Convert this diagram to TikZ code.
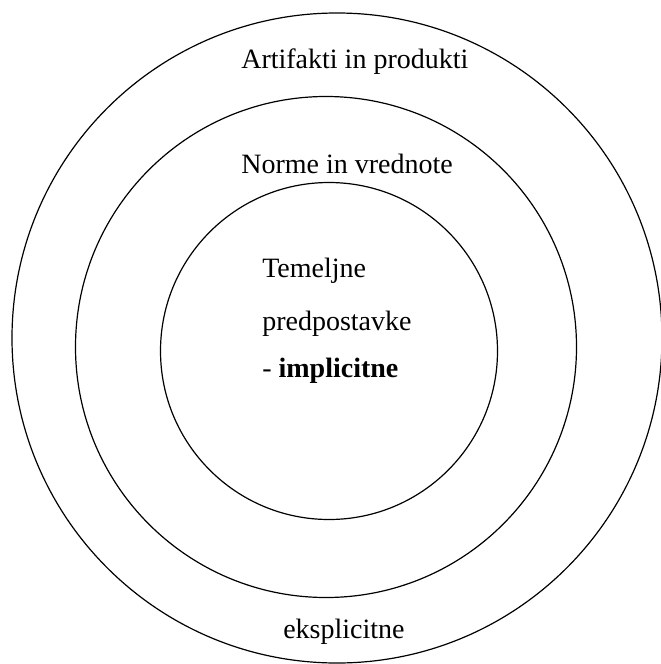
\documentclass[tikz,border=0pt]{standalone}
\usepackage{fontspec}
\setmainfont{Liberation Serif}
\begin{document}
\begin{tikzpicture}[x=1pt, y=-1pt, semithick]
\tikzstyle{ring}=[shape=circle, draw, line width=1.2pt,
                    inner sep=0pt]
\tikzstyle{ringtext}=[anchor=base west, inner sep=0pt,
                    font=\fontsize{28}{34}\selectfont]
  \useasboundingbox (0,0) rectangle (661,664);
  \node[ring, minimum size=650pt] (outer)  at (337,338) {};
  \node[ring, minimum size=501pt] (middle) at (326,347) {};
  \node[ring, minimum size=337pt] (inner)  at (329,351) {};
  \node[ringtext] (artifakti)    at (241,68)  {Artifakti in produkti};
  \node[ringtext] (norme)        at (241,173) {Norme in vrednote};
  \node[ringtext] (temeljne)     at (262,277) {Temeljne};
  \node[ringtext] (predpostavke) at (262,330) {predpostavke};
  \node[ringtext] (implicitne)   at (262,377) {- \textbf{implicitne}};
  \node[ringtext] (eksplicitne)  at (283,638) {eksplicitne};
\end{tikzpicture}
\end{document}
